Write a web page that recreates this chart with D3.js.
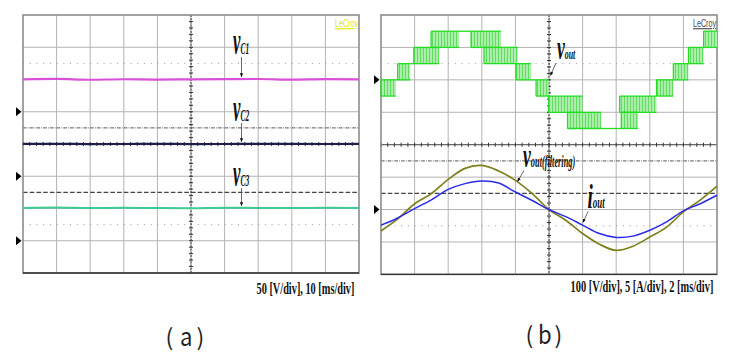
<!DOCTYPE html>
<html>
<head>
<meta charset="utf-8"/>
<title>Capacitor and output waveforms</title>
<script src="https://d3js.org/d3.v7.min.js"></script>
<style>
	body { margin: 0; background: #fff; }
	svg { display: block; background: #fff; }
	.grid line { stroke: #b3b3b3; stroke-width: 1; }
	.frame { fill: none; stroke: #8c8c8c; stroke-width: 1.6; }
	.axis line { stroke: #333; stroke-width: 1; }
	.ref { fill: none; }
	.dot { stroke: #9a9a9a; stroke-width: 1; stroke-dasharray: 1 5.72; }
	.dashdot { stroke: #555; stroke-width: 1; stroke-dasharray: 3.6 1.2 0.8 1.12; }
	.dash { stroke: #444; stroke-width: 1.2; stroke-dasharray: 4.6 2.12; }
	.trace { fill: none; stroke-linejoin: round; }
	.lbl { font-family: "Liberation Serif", serif; font-style: italic; font-weight: bold; fill: #111; }
	.scale { font-family: "Liberation Serif", serif; font-weight: bold; font-size: 16px; fill: #111; }
	.cap { font-family: "Noto Sans CJK KR", "Noto Sans", sans-serif; fill: #222; }
	.arrow { stroke: #444; stroke-width: 0.8; }
</style>
</head>
<body>
<svg width="742" height="359">
	<defs>
		<marker id="head" viewBox="0 0 6 6" refX="5.5" refY="3" markerWidth="5" markerHeight="5" orient="auto">
			<path d="M0,0.6 L6,3 L0,5.4 Z" fill="#111"/>
		</marker>
		<pattern id="pwm" width="3" height="10" patternUnits="userSpaceOnUse">
			<rect width="3" height="10" fill="#adeead"/>
			<rect width="0.9" height="10" fill="#55db55"/>
		</pattern>
	</defs>
</svg>

<script>
// ---------------- (a) capacitor voltages, 50 V/div, 10 ms/div ----------------
const timeA = [0, 10, 20, 30, 40, 50, 60, 70, 80, 90, 100];            // ms
const vC1 = [50.2, 50.9, 49.6, 50.4, 49.9, 50.3, 50.6, 50.8, 49.8, 50.5, 50.1]; // V
const vC2 = [50.1, 50.3, 49.9, 50.0, 50.2, 49.9, 50.0, 50.3, 50.1, 50.0, 50.2]; // V
const vC3 = [50.9, 51.4, 50.6, 51.1, 50.7, 50.5, 51.2, 50.9, 50.6, 51.1, 50.8]; // V
const groundA = [1, -1, -3];                 // channel ground markers (div)
const refLevelsA = [2.5, 0.5, -1.5, -2.5];   // cursor lines (div)
const refKindsA = ["dot", "dashdot", "dash", "dot"];

// ---------------- (b) inverter output, 100 V/div, 5 A/div, 2 ms/div ----------------
const timeB = [0, 1, 2, 3, 4, 5, 6, 7, 8, 9, 10, 11, 12, 13, 14, 15, 16, 17, 18, 19, 20]; // ms
const voutFilt = [-66, -29, 18, 49, 93, 127, 136, 119, 90, 49, 0, -33, -74, -107, -126, -113, -85, -54, -7, 29, 72]; // V
const iout = [-2.4, -1.3, 0.15, 1.5, 3.1, 4.0, 4.4, 4.1, 2.7, 1.4, 0, -1.1, -2.4, -3.7, -4.3, -4.1, -3.2, -1.9, -0.2, 0.9, 2.2]; // A
// stepped vout: switching bands [t0 ms, t1 ms, low V, high V]
const voutBands = [
	[0.00, 0.89, -50, 0],
	[0.99, 1.74, 0, 50],
	[1.95, 3.47, 50, 100],
	[2.98, 4.64, 100, 150],
	[5.36, 7.14, 100, 150],
	[6.13, 8.14, 50, 100],
	[8.04, 8.93, 0, 50],
	[9.23, 9.98, -50, 0],
	[9.98, 12.0, -100, -50],
	[11.1, 13.1, -150, -100],
	[14.3, 15.3, -150, -100],
	[14.2, 16.4, -100, -50],
	[16.4, 17.4, -50, 0],
	[17.4, 18.3, 0, 50],
	[18.3, 19.2, 50, 100],
	[19.2, 20.0, 100, 150]
];
const groundB = [2, -2];
const refLevelsB = [2.5, -0.5, -1.5, -2.5];
const refKindsB = ["dot", "dashdot", "dash", "dot"];

const svg = d3.select("svg");

// draws grid, frame, centre axes and cursor lines, returns scales
function scope(left, top, right, bottom, msPerDiv, refLevels, refKinds, grounds) {
	const x = d3.scaleLinear().domain([0, 10 * msPerDiv]).range([left, right]);
	const y = d3.scaleLinear().domain([-4, 4]).range([bottom, top]);
	const g = svg.append("g");

	const grid = g.append("g").attr("class", "grid");
	grid.selectAll(".v").data(d3.range(1, 10)).enter().append("line")
		.attr("x1", d => x(d * msPerDiv)).attr("x2", d => x(d * msPerDiv))
		.attr("y1", top).attr("y2", bottom);
	grid.selectAll(".h").data(d3.range(-3, 4)).enter().append("line")
		.attr("y1", d => y(d)).attr("y2", d => y(d))
		.attr("x1", left).attr("x2", right);

	g.selectAll(".ref").data(refLevels).enter().append("line")
		.attr("class", (d, i) => "ref " + refKinds[i])
		.attr("x1", left).attr("x2", right)
		.attr("y1", d => y(d)).attr("y2", d => y(d));

	// centre axes with 0.2 div ticks
	const ax = g.append("g").attr("class", "axis");
	const cx = x(5 * msPerDiv), cy = y(0);
	ax.append("line").attr("x1", left).attr("x2", right).attr("y1", cy).attr("y2", cy)
		.style("stroke", "#555");
	ax.append("line").attr("x1", cx).attr("x2", cx).attr("y1", top).attr("y2", bottom)
		.style("stroke-dasharray", "2 1.2");
	ax.selectAll(".tx").data(d3.range(0, 50)).enter().append("line")
		.attr("x1", d => x(d * msPerDiv / 5)).attr("x2", d => x(d * msPerDiv / 5))
		.attr("y1", cy - 2).attr("y2", cy + 2);
	ax.selectAll(".ty").data(d3.range(-20, 20)).enter().append("line")
		.attr("y1", d => y(d / 5)).attr("y2", d => y(d / 5))
		.attr("x1", cx - 2).attr("x2", cx + 2);

	g.append("rect").attr("class", "frame")
		.attr("x", left).attr("y", top).attr("width", right - left).attr("height", bottom - top);
	g.append("line").attr("x1", left).attr("x2", right).attr("y1", bottom).attr("y2", bottom)
		.style("stroke", "#333").style("stroke-width", 1.4);

	// ground markers
	g.selectAll(".gnd").data(grounds).enter().append("path")
		.attr("d", d => `M${left - 7},${y(d) - 4.5} L${left - 1.5},${y(d)} L${left - 7},${y(d) + 4.5} Z`)
		.attr("fill", "#000");

	return {x, y, g};
}

function trace(p, times, values, ground, perDiv, color, width, curve) {
	const line = d3.line()
		.x((d, i) => p.x(times[i]))
		.y(d => p.y(ground + d / perDiv))
		.curve(curve || d3.curveLinear);
	p.g.append("path").attr("class", "trace").attr("d", line(values))
		.style("stroke", color).style("stroke-width", width);
}

function label(x, y, main, sub, mainSize, subSize, sx) {
	const t = svg.append("text").attr("class", "lbl")
		.attr("transform", `translate(${x},${y}) scale(${sx},1)`);
	t.append("tspan").style("font-size", mainSize + "px").text(main);
	t.append("tspan").style("font-size", subSize + "px").text(sub);
}

function arrow(x1, y1, x2, y2) {
	svg.append("line").attr("class", "arrow")
		.attr("x1", x1).attr("y1", y1).attr("x2", x2).attr("y2", y2)
		.attr("marker-end", "url(#head)");
}

// squeeze a text horizontally so it spans exactly `width`
function fitText(sel, x, y, width) {
	const w = sel.node().getComputedTextLength();
	sel.attr("transform", `translate(${x},${y}) scale(${width / w},1)`);
}

function lecroy(xLeft, y, color) {
	const t = svg.append("text")
		.style("font-family", "Liberation Sans, sans-serif").style("font-size", "11px")
		.style("text-decoration", "underline").style("fill", color)
		.text("LeCroy");
	fitText(t, xLeft, y, 23);
}

// ---------------- panel (a) ----------------
const pa = scope(23, 15, 359, 273, 10, refLevelsA, refKindsA, groundA);
trace(pa, timeA, vC1, groundA[0], 50, "#d84fd8", 2.2, d3.curveMonotoneX);
trace(pa, timeA, vC2, groundA[1], 50, "#1e1e4e", 2.2, d3.curveMonotoneX);
trace(pa, timeA, vC3, groundA[2], 50, "#3fcb92", 2.0, d3.curveMonotoneX);

label(233, 53.5, "v", "C1", 38, 17, 0.44);
label(233, 120.5, "v", "C2", 38, 17, 0.44);
label(233, 186, "v", "C3", 38, 17, 0.44);
arrow(241.5, 57, 241.5, pa.y(groundA[0] + vC1[7] / 50) - 2);
arrow(241.5, 123, 241.5, pa.y(groundA[1] + vC2[7] / 50) - 2);
arrow(241.5, 188, 241.5, pa.y(groundA[2] + vC3[7] / 50) - 2);
lecroy(335, 27, "#e5e500");

fitText(svg.append("text").attr("class", "scale").text("50 [V/div], 10 [ms/div]"), 256.5, 293.5, 98);

// ---------------- panel (b) ----------------
const pb = scope(381, 15, 717, 274.4, 2, refLevelsB, refKindsB, groundB);

// stepped output voltage: switching bands plus the held levels between them
const vy = v => pb.y(groundB[0] + v / 100);
pb.g.selectAll(".band").data(voutBands).enter().append("rect")
	.attr("x", d => pb.x(d[0])).attr("width", d => pb.x(d[1]) - pb.x(d[0]))
	.attr("y", d => vy(d[3])).attr("height", d => vy(d[2]) - vy(d[3]))
	.attr("fill", "url(#pwm)");
const edges = [];
voutBands.forEach((b, i) => {
	edges.push([b[0], b[1], b[2]], [b[0], b[1], b[3]]);
	const n = voutBands[i + 1];
	if (n && n[0] > b[1]) {
		let lvl;
		if (b[3] === n[2]) lvl = b[3];
		else if (b[2] === n[3]) lvl = b[2];
		else lvl = Math.abs(b[3]) > Math.abs(b[2]) ? b[3] : b[2];
		edges.push([b[1], n[0], lvl]);
	}
});
pb.g.selectAll(".edge").data(edges).enter().append("line")
	.attr("x1", d => pb.x(d[0])).attr("x2", d => pb.x(d[1]))
	.attr("y1", d => vy(d[2])).attr("y2", d => vy(d[2]))
	.style("stroke", "#22dd22").style("stroke-width", 1.3);
pb.g.selectAll(".riser").data(voutBands).enter().append("line")
	.attr("x1", d => pb.x(d[0])).attr("x2", d => pb.x(d[0]))
	.attr("y1", d => vy(d[2])).attr("y2", d => vy(d[3]))
	.style("stroke", "#22dd22").style("stroke-width", 1.2);

trace(pb, timeB, voutFilt, groundB[1], 100, "#7f7f1c", 1.7, d3.curveCatmullRom);
trace(pb, timeB, iout, groundB[1], 5, "#2b2be8", 1.5, d3.curveCatmullRom);

label(557, 58.5, "v", "out", 34, 15, 0.52);
arrow(556, 63, 550.5, 75.5);
label(523, 167, "v", "out(filtering)", 34, 16, 0.52);
arrow(524, 170.5, 517.5, 181.5);
label(587.5, 207.5, "i", "out", 34, 16, 0.56);
arrow(588, 211.5, 583, 222.5);
lecroy(693, 27, "#444");

fitText(svg.append("text").attr("class", "scale").text("100 [V/div], 5 [A/div], 2 [ms/div]"), 570.5, 292, 143);

// ---------------- captions ----------------
function caption(xs, chars, y) {
	chars.forEach((c, i) => {
		svg.append("text").attr("class", "cap")
			.attr("transform", `translate(${xs[i]},${y}) scale(${i === 1 ? 0.85 : 1},1)`)
			.style("font-size", i === 1 ? "26px" : "23px")
			.text(c);
	});
}
caption([165.5, 180, 196.5], ["(", "a", ")"], 345.5);
caption([525.5, 538, 554.5], ["(", "b", ")"], 344);
</script>
</body>
</html>
